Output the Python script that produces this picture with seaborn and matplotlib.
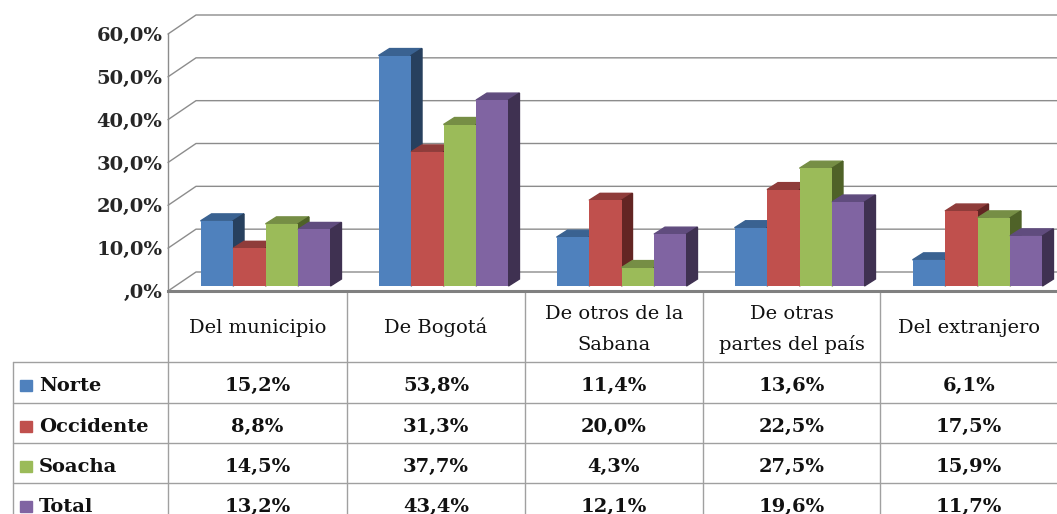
import pandas as pd
import matplotlib
matplotlib.use("Agg")
from matplotlib import pyplot as plt
from matplotlib.patches import Polygon, Rectangle
from matplotlib.ticker import FuncFormatter
import seaborn as sns

# datos
categorias = ["Del municipio", "De Bogotá", "De otros de la\nSabana", "De otras\npartes del país", "Del extranjero"]
series = ["Norte", "Occidente", "Soacha", "Total"]
norte = [15.2, 53.8, 11.4, 13.6, 6.1]
occidente = [8.8, 31.3, 20.0, 22.5, 17.5]
soacha = [14.5, 37.7, 4.3, 27.5, 15.9]
total = [13.2, 43.4, 12.1, 19.6, 11.7]
yticks = [0, 10, 20, 30, 40, 50, 60]

colores = ["#4F81BD", "#C0504D", "#9BBB59", "#8064A2"]
lados = ["#27405E", "#632523", "#4F6228", "#3F3151"]
techos = ["#3A6291", "#8F3C3A", "#768E45", "#604C7E"]

valores = [norte, occidente, soacha, total]
df = pd.DataFrame({
    "cat": [c for s in series for c in categorias],
    "serie": [s for s in series for c in categorias],
    "valor": [v for vals in valores for v in vals],
})

sns.set_style("white")
plt.rcParams["font.family"] = ["DejaVu Serif"]

W, H = 1057, 514
fig = plt.figure(figsize=(W / 100, H / 100), dpi=100)

# tabla de datos (en pixeles)
tab = fig.add_axes([0, 0, 1, 1], zorder=0)
tab.set_xlim(0, W)
tab.set_ylim(H, 0)
tab.axis("off")

cols = [168, 347, 525, 703, 880, 1058]
filas = [291, 362, 403, 443, 483, 523]
gris = "#A0A0A0"
for x in cols:
    tab.plot([x, x], [filas[0], H + 5], color=gris, lw=1)
tab.plot([13, 13], [filas[1], H + 5], color=gris, lw=1)
for y in filas[1:5]:
    tab.plot([13, W + 5], [y, y], color=gris, lw=1)

for k, cat in enumerate(categorias):
    cx = (cols[k] + cols[k + 1]) / 2
    lineas = cat.split("\n")
    bases = [333] if len(lineas) == 1 else [319, 350]
    for txt, b in zip(lineas, bases):
        tab.text(cx, b, txt, ha="center", va="baseline", fontsize=14, color="#111111")

for i, s in enumerate(series):
    base = filas[i + 1] + 29
    tab.add_patch(Rectangle((20, base - 11), 12, 11, color=colores[i]))
    tab.text(39, base, s, ha="left", va="baseline", fontsize=14, fontweight="bold", color="#111111")
    for k in range(len(categorias)):
        cx = (cols[k] + cols[k + 1]) / 2
        txt = f"{valores[i][k]:.1f}".replace(".", ",") + "%"
        tab.text(cx, base, txt, ha="center", va="baseline", fontsize=14, fontweight="bold", color="#111111")

# plano frontal del grafico 3d
x0, x1 = 168, 1058
y0, y1 = 291, 34
ax = fig.add_axes([x0 / W, (H - y0) / H, (x1 - x0) / W, (y0 - y1) / H], zorder=1)
ax.patch.set_alpha(0)

sns.barplot(data=df, x="cat", y="valor", hue="serie", palette=colores, width=0.73, gap=0,
            saturation=1, errorbar=None, legend=False, ax=ax, edgecolor="none")

ax.set_xlim(-0.5, 4.5)
ax.set_ylim(0, 60)
ux = 5 / (x1 - x0)
uy = 60 / (y0 - y1)

# pared del fondo
bx, by = 28 * ux, 19 * uy
for v in yticks:
    ax.plot([-0.5, -0.5 + bx, 4.5 + bx], [v, v + by, v + by], color="#8C8C8C", lw=1,
            clip_on=False, zorder=1)

# caras laterales y superiores
dx, dy = 11 * ux, 7 * uy
for i, cont in enumerate(ax.containers):
    for p in cont.patches:
        p.set_x(p.get_x() + 8.5 * ux)
        p.set_y(5 * uy)
        p.set_clip_on(False)
        p.set_zorder(2 + 0.01 * i + 0.005)
        xl = p.get_x()
        xr = xl + p.get_width()
        yb = p.get_y()
        yt = yb + p.get_height()
        ax.add_patch(Polygon([(xl, yt), (xr, yt), (xr + dx, yt + dy), (xl + dx, yt + dy)],
                             closed=True, color=techos[i], zorder=2 + 0.01 * i, clip_on=False))
        ax.add_patch(Polygon([(xr, yb), (xr + dx, yb + dy), (xr + dx, yt + dy), (xr, yt)],
                             closed=True, color=lados[i], zorder=2 + 0.01 * i, clip_on=False))

ax.set_yticks(yticks)
ax.yaxis.set_major_formatter(FuncFormatter(lambda v, pos: (f"{v:.1f}".replace(".", ",")).lstrip("0") + "%"))
ax.tick_params(axis="y", length=0, pad=4, labelsize=14)
for lab in ax.get_yticklabels():
    lab.set_fontweight("bold")
ax.set_xticks([])
ax.set_xlabel("")
ax.set_ylabel("")
for lado in ["top", "right"]:
    ax.spines[lado].set_visible(False)
ax.spines["left"].set_color("#8C8C8C")
ax.spines["left"].set_linewidth(1)
ax.spines["bottom"].set_color("#808080")
ax.spines["bottom"].set_linewidth(2.2)
ax.spines["bottom"].set_zorder(3)

fig.savefig("out.png", dpi=100)
